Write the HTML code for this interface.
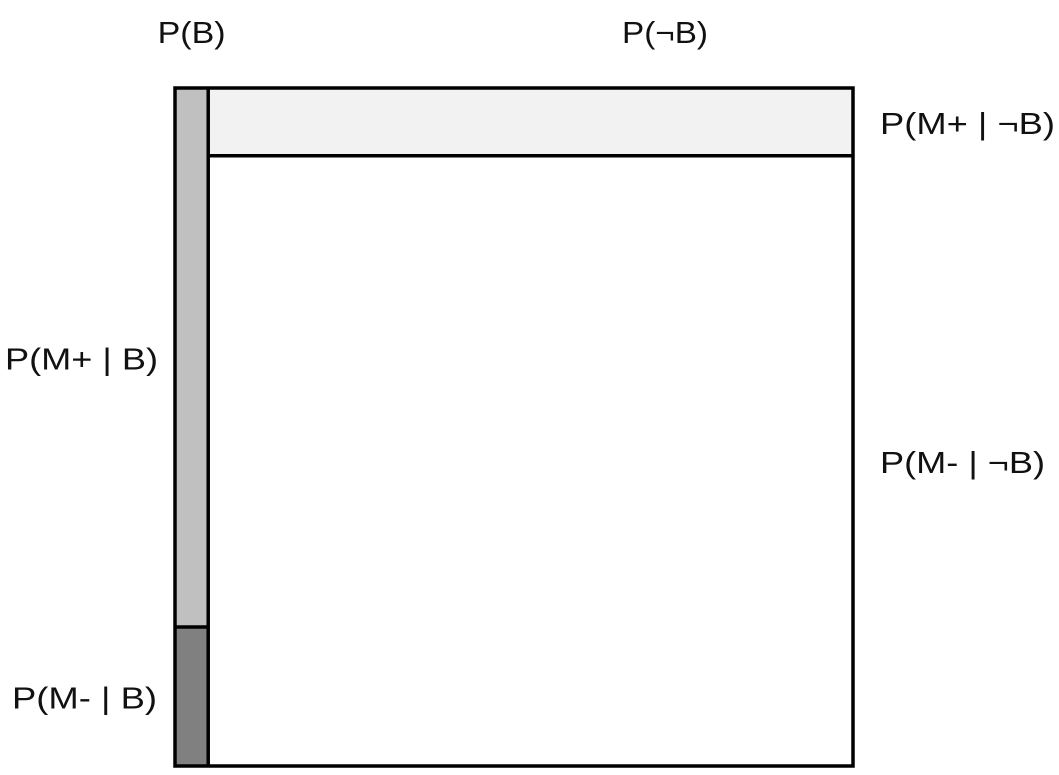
<!DOCTYPE html>
<html><head><meta charset="utf-8"><style>
html,body{margin:0;padding:0;background:#fff;}
svg{display:block;}
text{font-family:"Liberation Sans","DejaVu Sans",sans-serif;font-size:31px;fill:#111;}
</style></head><body>
<svg id="chart" width="1059" height="775" viewBox="0 0 1059 775"></svg>
<script>
const pB = [0.049];
const pMplusGivenB = [0.795];
const pMplusGivenNotB = [0.10];
const labels = ["P(B)","P(¬B)","P(M+ | ¬B)","P(M+ | B)","P(M- | ¬B)","P(M- | B)"];

const X0=175, X1=853, Y0=88, Y1=766;
const sx = v => X0 + v*(X1-X0);
const sy = v => Y0 + v*(Y1-Y0);
const svg = document.getElementById('chart');
const NS='http://www.w3.org/2000/svg';
function mk(tag, attrs){const e=document.createElementNS(NS,tag);for(const k in attrs)e.setAttribute(k,attrs[k]);svg.appendChild(e);return e;}

const xb = sx(pB[0]);
const yB = sy(pMplusGivenB[0]);
const yN = sy(pMplusGivenNotB[0]);

let r;
r = mk('rect',{x:X0,y:Y0,width:xb-X0,height:yB-Y0,fill:'#c0c0c0'});


r = mk('rect',{x:X0,y:yB,width:xb-X0,height:Y1-yB,fill:'#808080'});


r = mk('rect',{x:xb,y:Y0,width:X1-xb,height:yN-Y0,fill:'#f2f2f2'});


r = mk('rect',{x:xb,y:yN,width:X1-xb,height:Y1-yN,fill:'#ffffff'});



let l;
l = mk('rect',{x:X0,y:Y0,width:X1-X0,height:Y1-Y0,fill:'none',stroke:'#000','stroke-width':3.5});


l = mk('line',{x1:xb,y1:Y0,x2:xb,y2:Y1,stroke:'#000','stroke-width':3.5});


l = mk('line',{x1:X0,y1:yB,x2:xb,y2:yB,stroke:'#000','stroke-width':3.5});


l = mk('line',{x1:xb,y1:yN,x2:X1,y2:yN,stroke:'#000','stroke-width':3.5});



function txt(s,x,y,anchor,len,name){
  const t=mk('text',{x:x,y:y,'text-anchor':anchor});
  t.textContent=s;
  if(len){t.setAttribute('textLength',len);t.setAttribute('lengthAdjust','spacingAndGlyphs');}
  
  
}
txt(labels[0],(X0+xb)/2,43,'middle',68,'label-p-b');
txt(labels[1],665,43,'middle',86,'label-p-not-b');
txt(labels[2],880,(Y0+yN)/2+12,'start',175,'label-mplus-notb');
txt(labels[3],5,(Y0+yB)/2+12,'start',153,'label-mplus-b');
txt(labels[4],880,(yN+Y1)/2+12,'start',165,'label-mminus-notb');
txt(labels[5],12,(yB+Y1)/2+12,'start',145,'label-mminus-b');
</script>
</body></html>
